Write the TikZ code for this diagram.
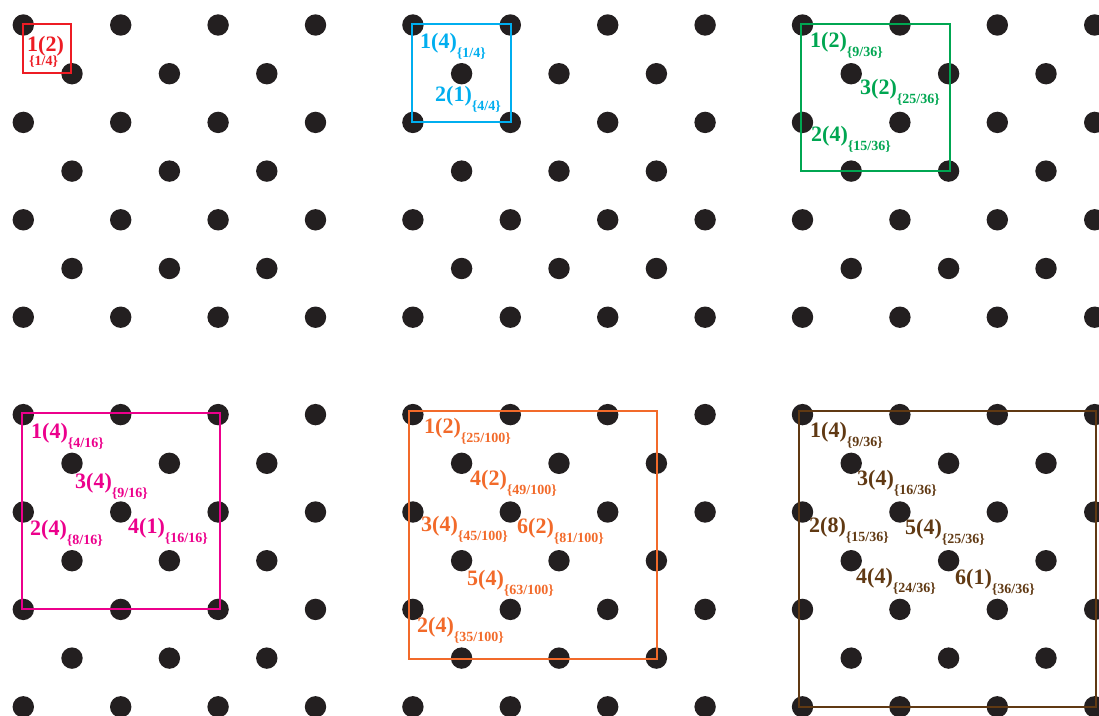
\documentclass[tikz,border=0pt]{standalone}
\usepackage{fontspec}
\setmainfont{Liberation Serif}
\definecolor{dotblack}{HTML}{231F20}
\definecolor{cred}{HTML}{ED1C24}
\definecolor{ccyan}{HTML}{00AEEF}
\definecolor{cgreen}{HTML}{00A651}
\definecolor{cmag}{HTML}{EC008C}
\definecolor{corange}{HTML}{F26A2A}
\definecolor{cbrown}{HTML}{603913}
\newcommand\lbl[2]{#1\raisebox{-9pt}{\fontsize{14}{14}\selectfont\{#2\}}}
\begin{document}
\begin{tikzpicture}[x=1pt,y=-1pt,
  dot/.style={fill=dotblack},
  lab/.style={anchor=base west, inner sep=0pt, font=\fontsize{22}{22}\selectfont\bfseries},
  sublab/.style={anchor=base west, inner sep=0pt, font=\fontsize{14}{14}\selectfont\bfseries},
  frame/.style={line width=2pt}]
\useasboundingbox (0,0) rectangle (1099,715);
\clip (0,0) rectangle (1099,715);
% lattice corner sites
\foreach \i in {0,...,11}
  \foreach \j in {0,...,7}
    \fill[dot] ({23.3+\i*97.4},{25+\j*97.4}) circle[radius=10.7];
% centred sites (absent in gaps between panels)
\foreach \P in {0,1,2}
  \foreach \Q in {0,1}
    \foreach \p in {0,1,2}
      \foreach \q in {0,1,2}
        \fill[dot] ({23.3+(\P*4+\p+0.5)*97.4},{25+(\Q*4+\q+0.5)*97.4}) circle[radius=10.7];
% panel 1 (red)
\draw[frame, cred] (22.5,24) rectangle (71,73);
\node[lab, text=cred] (r1) at (27,51) {1(2)};
\node[sublab, text=cred] (r1s) at (29,65) {\{1/4\}};
% panel 2 (cyan)
\draw[frame, ccyan] (411.5,24) rectangle (510.5,122);
\node[lab, text=ccyan] (b1) at (420,48) {\lbl{1(4)}{1/4}};
\node[lab, text=ccyan] (b2) at (435,101) {\lbl{2(1)}{4/4}};
% panel 3 (green)
\draw[frame, cgreen] (800.5,23.5) rectangle (949.5,171);
\node[lab, text=cgreen] (g1) at (810,47) {\lbl{1(2)}{9/36}};
\node[lab, text=cgreen] (g3) at (860,94) {\lbl{3(2)}{25/36}};
\node[lab, text=cgreen] (g2) at (811,141) {\lbl{2(4)}{15/36}};
% panel 4 (magenta)
\draw[frame, cmag] (21.5,412.5) rectangle (219.5,609);
\node[lab, text=cmag] (m1) at (31,438) {\lbl{1(4)}{4/16}};
\node[lab, text=cmag] (m3) at (75,488) {\lbl{3(4)}{9/16}};
\node[lab, text=cmag] (m2) at (30,535) {\lbl{2(4)}{8/16}};
\node[lab, text=cmag] (m4) at (128,533) {\lbl{4(1)}{16/16}};
% panel 5 (orange)
\draw[frame, corange] (409,410.5) rectangle (656.5,659);
\node[lab, text=corange] (o1) at (424,433) {\lbl{1(2)}{25/100}};
\node[lab, text=corange] (o4) at (470,485) {\lbl{4(2)}{49/100}};
\node[lab, text=corange] (o3) at (421,531) {\lbl{3(4)}{45/100}};
\node[lab, text=corange] (o6) at (517,533) {\lbl{6(2)}{81/100}};
\node[lab, text=corange] (o5) at (467,585) {\lbl{5(4)}{63/100}};
\node[lab, text=corange] (o2) at (417,632) {\lbl{2(4)}{35/100}};
% panel 6 (brown)
\draw[frame, cbrown] (798.5,410.5) rectangle (1095.5,707);
\node[lab, text=cbrown] (n1) at (810,437) {\lbl{1(4)}{9/36}};
\node[lab, text=cbrown] (n3) at (857,485) {\lbl{3(4)}{16/36}};
\node[lab, text=cbrown] (n2) at (809,532) {\lbl{2(8)}{15/36}};
\node[lab, text=cbrown] (n5) at (905,534) {\lbl{5(4)}{25/36}};
\node[lab, text=cbrown] (n4) at (856,583) {\lbl{4(4)}{24/36}};
\node[lab, text=cbrown] (n6) at (955,584) {\lbl{6(1)}{36/36}};
\end{tikzpicture}
\end{document}
